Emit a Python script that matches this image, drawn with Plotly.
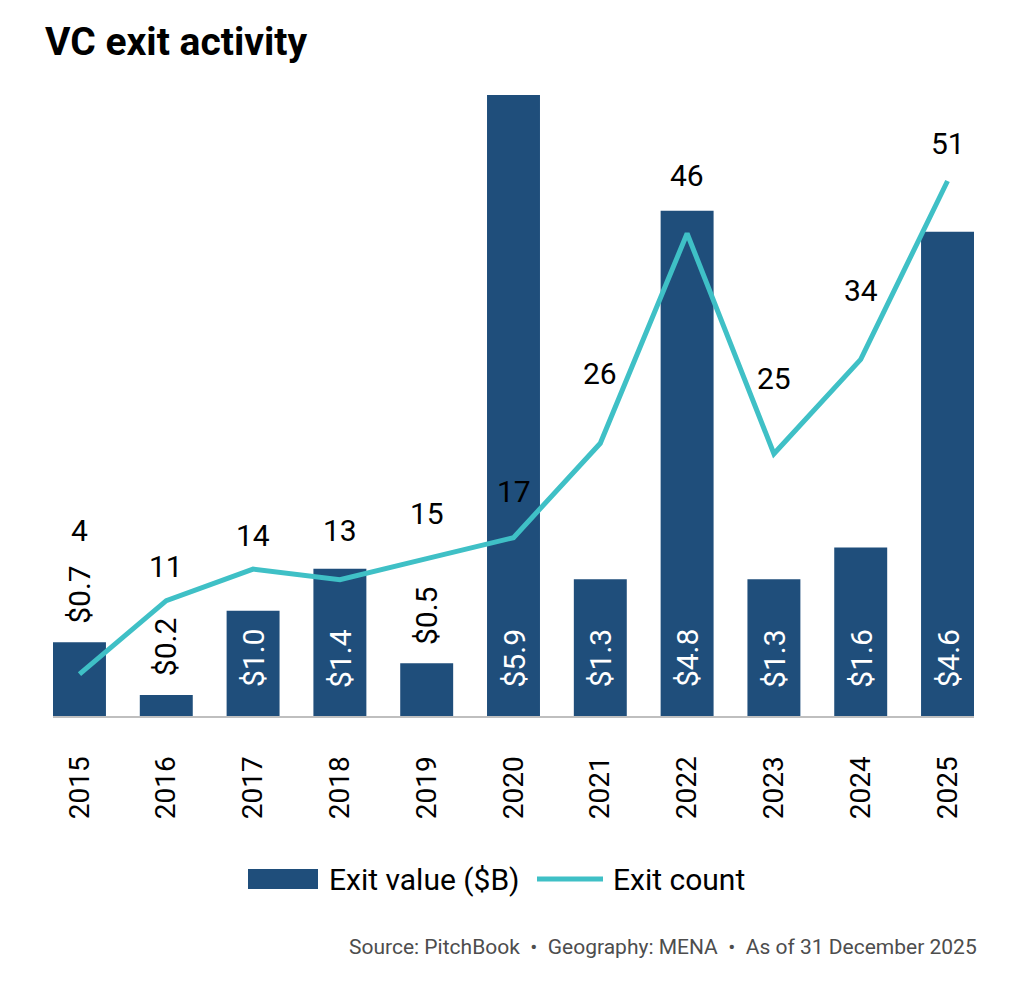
import plotly.graph_objects as go

years = ["2015", "2016", "2017", "2018", "2019", "2020", "2021", "2022", "2023", "2024", "2025"]
exit_value = [0.7, 0.2, 1.0, 1.4, 0.5, 5.9, 1.3, 4.8, 1.3, 1.6, 4.6]
exit_count = [4, 11, 14, 13, 15, 17, 26, 46, 25, 34, 51]
series_names = ["Exit value ($B)", "Exit count"]

# label styling (positions relative to marks, not data)
value_label_pos = ["out", "out", "in", "in", "out", "in", "in", "in", "in", "in", "in"]
count_label_shift = [144, 34, 34, 49, 45, 46, 70, 58, 75, 69, 38]

BAR = "#1F4E7B"
LINE = "#3FC0C6"
FONT = "Roboto"

# plot-area geometry in pixels (for converting layout positions to paper coords)
PL, PR, PT, PB = 53, 974, 95, 716


def px(xp):
    return (xp - PL) / (PR - PL)


def py(yp):
    return (PB - yp) / (PB - PT)


fig = go.Figure()
fig.add_trace(go.Bar(
    x=years, y=exit_value, name=series_names[0],
    marker=dict(color=BAR, line=dict(width=0)),
    yaxis="y", showlegend=False,
))
fig.add_trace(go.Scatter(
    x=years, y=exit_count, name=series_names[1], mode="lines",
    line=dict(color=LINE, width=5), yaxis="y2", showlegend=False,
))

annotations = []
for i, (v, pos) in enumerate(zip(exit_value, value_label_pos)):
    txt = f"${v:.1f}"
    if pos == "in":
        annotations.append(dict(x=i, y=0, xref="x", yref="y", text=txt, textangle=-90,
                                showarrow=False, yanchor="middle", xanchor="center", yshift=58,
                                font=dict(family=FONT, size=30, color="white")))
    else:
        annotations.append(dict(x=i, y=v, xref="x", yref="y", text=txt, textangle=-90,
                                showarrow=False, yanchor="middle", xanchor="center", yshift=48,
                                font=dict(family=FONT, size=30, color="black")))
for i, (c, s) in enumerate(zip(exit_count, count_label_shift)):
    annotations.append(dict(x=i, y=c, xref="x", yref="y2", text=str(c), showarrow=False,
                            yanchor="middle", xanchor="center", yshift=s,
                            font=dict(family=FONT, size=30, color="black")))

# custom legend
annotations.append(dict(x=px(327), y=py(879), xref="paper", yref="paper", xanchor="left",
                        yanchor="middle", text=series_names[0], showarrow=False,
                        font=dict(family=FONT, size=30, color="black")))
annotations.append(dict(x=px(611), y=py(879), xref="paper", yref="paper", xanchor="left",
                        yanchor="middle", text=series_names[1], showarrow=False,
                        font=dict(family=FONT, size=30, color="black")))
shapes = [
    dict(type="rect", xref="paper", yref="paper", x0=px(248), x1=px(318), y0=py(869), y1=py(889),
         fillcolor=BAR, line=dict(width=0)),
    dict(type="line", xref="paper", yref="paper", x0=px(537), x1=px(603), y0=py(879), y1=py(879),
         line=dict(color=LINE, width=5)),
]

annotations.append(dict(
    x=px(979), y=py(947), xref="paper", yref="paper", xanchor="right", yanchor="middle",
    text="Source: PitchBook  \u2022  Geography: MENA  \u2022  As of 31 December 2025",
    showarrow=False, font=dict(family=FONT, size=21, color="#4D4D4D")))

hidden = dict(showgrid=False, showline=False, showticklabels=False, ticks="", zeroline=False)

fig.update_layout(
    width=1024, height=992,
    margin=dict(l=PL, r=1024 - PR, t=PT, b=992 - PB),
    paper_bgcolor="white", plot_bgcolor="white",
    bargap=0.39,
    showlegend=False,
    title=dict(text="<b>VC exit activity</b>", x=45 / 1024, xanchor="left", xref="container",
               y=1 - 41 / 992, yanchor="middle", yref="container",
               font=dict(family=FONT, size=39, color="black")),
    xaxis=dict(type="category", range=[-0.305, 10.305], tickangle=-90, showgrid=False,
               showline=True, linecolor="#BFBFBF", linewidth=2, ticks="",
               ticklabelstandoff=27,
               tickfont=dict(family=FONT, size=28, color="black")),
    yaxis=dict(range=[0, 5.9], **hidden),
    yaxis2=dict(range=[0, 59.2], overlaying="y", side="right", **hidden),
    annotations=annotations,
    shapes=shapes,
)

fig.write_html("out.html")
